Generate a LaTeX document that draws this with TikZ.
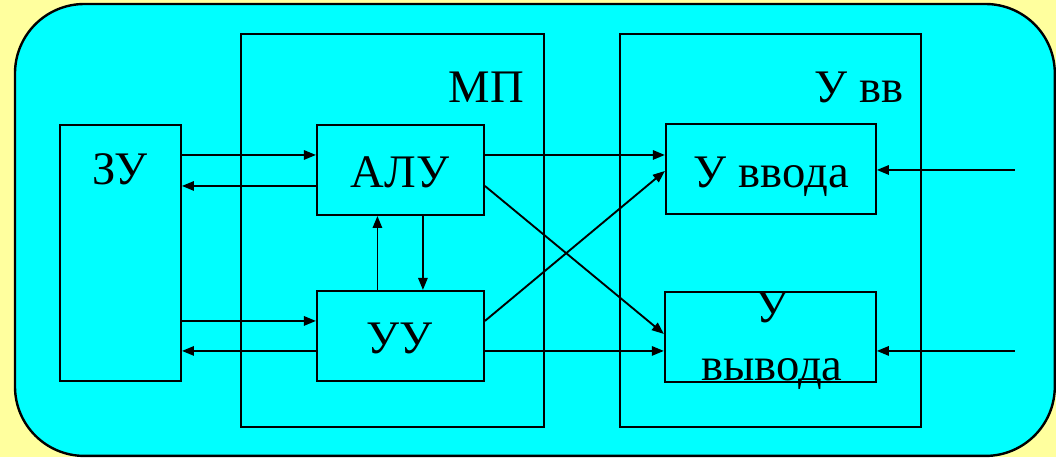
\documentclass[tikz,border=0pt]{standalone}
\usepackage{fontspec}
\setmainfont{Liberation Serif}
\usetikzlibrary{arrows.meta,calc}

\definecolor{paleyellow}{HTML}{FFFF9E}
\definecolor{panelcyan}{HTML}{00FFFF}

\tikzset{
    blok/.style={draw, line width=1.5pt, inner sep=0pt},
    lbl/.style={anchor=base, inner sep=0pt, font=\fontsize{35}{40}\selectfont},
    arr/.style={-{Triangle[length=9pt,width=7pt]}, line width=1.4pt}
}

\begin{document}
\begin{tikzpicture}[x=0.75pt, y=-0.75pt]
    % background and panel
    \fill[paleyellow] (0,0) rectangle (1056,457);
    \draw[fill=panelcyan, line width=1.8pt, rounded corners=52pt]
        (15,4) rectangle (1055,456);

    % outer blocks
    \node[blok, minimum width=121*0.75pt, minimum height=256*0.75pt] (zu)   at (120.5,253)  {};
    \node[blok, minimum width=303*0.75pt, minimum height=393*0.75pt] (mp)   at (392.5,230.5) {};
    \node[blok, minimum width=301*0.75pt, minimum height=393*0.75pt] (uvv)  at (770.5,230.5) {};

    % inner blocks
    \node[blok, minimum width=167*0.75pt, minimum height=90*0.75pt] (alu)    at (400.5,170) {};
    \node[blok, minimum width=167*0.75pt, minimum height=90*0.75pt] (uu)     at (400.5,336) {};
    \node[blok, minimum width=210*0.75pt, minimum height=90*0.75pt] (uvvod)  at (771,169.5) {};
    \node[blok, minimum width=211*0.75pt, minimum height=90*0.75pt] (uvyvod) at (770.5,337) {};

    % labels
    \node[lbl] (tmp)   at (486.5,103) {МП};
    \node[lbl] (tuvv)  at (859,103)   {У вв};
    \node[lbl] (tzu)   at (120,185)   {ЗУ};
    \node[lbl] (talu)  at (400,188)   {АЛУ};
    \node[lbl] (tuu)   at (400,354)   {УУ};
    \node[lbl] (tvvod) at (771.5,188) {У ввода};
    \node[lbl] (tu)    at (772,323)   {У};
    \node[lbl] (tvyv)  at (772,381)   {вывода};

    % ZU <-> ALU, UU
    \draw[arr] ($(zu.east|-alu.west)+(0,-15)$) -- ($(alu.west)+(0,-15)$);
    \draw[arr] ($(alu.west)+(0,16)$) -- ($(zu.east|-alu.west)+(0,16)$);
    \draw[arr] ($(zu.east|-uu.west)+(0,-15)$) -- ($(uu.west)+(0,-15)$);
    \draw[arr] ($(uu.west)+(0,15)$) -- ($(zu.east|-uu.west)+(0,15)$);

    % ALU <-> UU
    \draw[arr] ($(uu.north)+(-23,0)$) -- ($(alu.south)+(-23,0)$);
    \draw[arr] ($(alu.south)+(22.5,0)$) -- ($(uu.north)+(22.5,0)$);

    % to the devices
    \draw[arr] ($(alu.east)+(0,-15)$) -- ($(uvvod.west|-alu.east)+(0,-15)$);
    \draw[arr] ($(alu.east)+(0,16)$) -- ($(uvyvod.west)+(0,-3)$);
    \draw[arr] ($(uu.east)+(0,-15)$) -- ($(uvvod.west)+(0,1.5)$);
    \draw[arr] ($(uu.east)+(0,15)$) -- ($(uvyvod.west|-uu.east)+(0,15)$);

    % from outside
    \coordinate (inA) at (1015,170);
    \coordinate (inB) at (1015,351);
    \draw[arr] (inA) -- (uvvod.east|-inA);
    \draw[arr] (inB) -- (uvyvod.east|-inB);
\end{tikzpicture}
\end{document}
